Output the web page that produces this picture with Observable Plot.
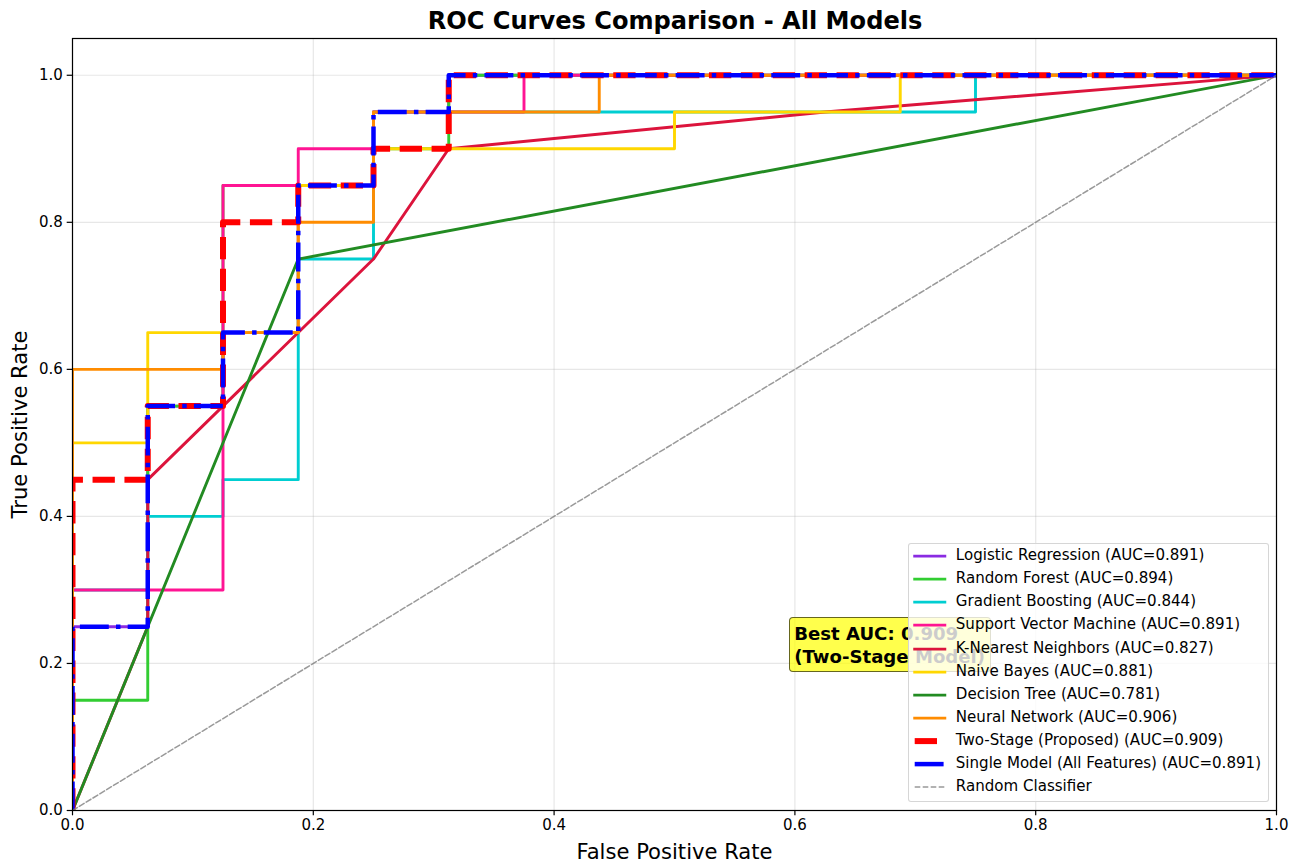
<!DOCTYPE html>
<html>
<head>
<meta charset="utf-8">
<script src="https://cdn.jsdelivr.net/npm/d3@7"></script>
<script src="https://cdn.jsdelivr.net/npm/@observablehq/plot@0.6"></script>
<style>
  body { margin: 0; background: white; }
  #fig { position: relative; width: 1298px; height: 864px; font-family: "DejaVu Sans", sans-serif; color: black; background: white; }
  #title { height: 30px; box-sizing: border-box; padding-top: 7px; line-height: 28px; text-align: center; font-size: 24.1px; font-weight: bold; padding-left: 52px; overflow: visible; white-space: nowrap; }
  #legend { position: absolute; left: 907.5px; top: 542.7px; width: 361.5px; height: 259px; box-sizing: border-box; border: 1px solid rgba(204,204,204,0.8); border-radius: 3px; background: rgba(255,255,255,0.8); }
  .lrow { position: absolute; left: 0; height: 23.1px; line-height: 23.1px; font-size: 15.07px; white-space: nowrap; }
  .lrow svg { position: absolute; left: 0; top: 0; }
  .lrow span { position: absolute; left: 47.3px; top: 0; }
  #note { position: absolute; box-sizing: border-box; padding: 3.5px 5px 3.5px 4.4px; background: rgba(255,255,0,0.7); border: 1.5px solid rgba(0,0,0,0.6); border-radius: 4px; font-size: 18.1px; font-weight: bold; line-height: 23px; white-space: nowrap; }
</style>
</head>
<body>
<div id="fig">
  <div id="title">ROC Curves Comparison - All Models</div>
</div>
<script>
// ---- data ----
const modelNames = ["Logistic Regression", "Random Forest", "Gradient Boosting", "Support Vector Machine",
  "K-Nearest Neighbors", "Naive Bayes", "Decision Tree", "Neural Network",
  "Two-Stage (Proposed)", "Single Model (All Features)"];
const aucValues = [0.891, 0.894, 0.844, 0.891, 0.827, 0.881, 0.781, 0.906, 0.909, 0.891];

const fprLR  = [0, 0, 0.0625, 0.0625, 0.125, 0.125, 0.1875, 0.1875, 0.25, 0.25, 0.3125, 0.3125, 1];
const tprLR  = [0, 0.25, 0.25, 0.55, 0.55, 0.65, 0.65, 0.85, 0.85, 0.95, 0.95, 1, 1];
const fprRF  = [0, 0, 0.0625, 0.0625, 0.125, 0.125, 0.25, 0.25, 0.3125, 0.3125, 1];
const tprRF  = [0, 0.15, 0.15, 0.55, 0.55, 0.85, 0.85, 0.9, 0.9, 1, 1];
const fprGB  = [0, 0, 0.0625, 0.0625, 0.125, 0.125, 0.1875, 0.1875, 0.25, 0.25, 0.75, 0.75, 1];
const tprGB  = [0, 0.3, 0.3, 0.4, 0.4, 0.45, 0.45, 0.75, 0.75, 0.95, 0.95, 1, 1];
const fprSVM = [0, 0, 0.125, 0.125, 0.1875, 0.1875, 0.25, 0.25, 0.375, 0.375, 1];
const tprSVM = [0, 0.3, 0.3, 0.85, 0.85, 0.9, 0.9, 0.95, 0.95, 1, 1];
const fprKNN = [0, 0.0625, 0.0625, 0.25, 0.3125, 0.625, 1];
const tprKNN = [0, 0.25, 0.45, 0.75, 0.9, 0.95, 1];
const fprNB  = [0, 0, 0.0625, 0.0625, 0.1875, 0.1875, 0.25, 0.25, 0.5, 0.5, 0.6875, 0.6875, 1];
const tprNB  = [0, 0.5, 0.5, 0.65, 0.65, 0.85, 0.85, 0.9, 0.9, 0.95, 0.95, 1, 1];
const fprDT  = [0, 0.1875, 1];
const tprDT  = [0, 0.75, 1];
const fprNN  = [0, 0, 0.125, 0.125, 0.1875, 0.1875, 0.25, 0.25, 0.4375, 0.4375, 1];
const tprNN  = [0, 0.6, 0.6, 0.65, 0.65, 0.8, 0.8, 0.95, 0.95, 1, 1];
const fprTS  = [0, 0, 0.0625, 0.0625, 0.125, 0.125, 0.1875, 0.1875, 0.25, 0.25, 0.3125, 0.3125, 1];
const tprTS  = [0, 0.45, 0.45, 0.55, 0.55, 0.8, 0.8, 0.85, 0.85, 0.9, 0.9, 1, 1];
const fprSM  = [0, 0, 0.0625, 0.0625, 0.125, 0.125, 0.1875, 0.1875, 0.25, 0.25, 0.3125, 0.3125, 1];
const tprSM  = [0, 0.25, 0.25, 0.55, 0.55, 0.65, 0.65, 0.85, 0.85, 0.95, 0.95, 1, 1];
const fprRandom = [0, 1];
const tprRandom = [0, 1];
const randomLabel = "Random Classifier";

const xTicks = [0, 0.2, 0.4, 0.6, 0.8, 1.0];
const yTicks = [0, 0.2, 0.4, 0.6, 0.8, 1.0];

// ---- styles (kept apart from data) ----
const colors = ["#8A2BE2", "#32CD32", "#00CED1", "#FF1493", "#DC143C", "#FFD700", "#228B22", "#FF8C00", "red", "blue"];
const widths = [2.9, 2.9, 2.9, 2.9, 2.9, 2.9, 2.9, 2.9, 6.0, 4.5];
const dashes = [null, null, null, null, null, null, null, null, "22.3,9.6", "28.9,7.2,4.5,7.2"];
const randomStyle = {color: "gray", width: 1.5, dash: "5.6,2.4", opacity: 0.8};

const curves = [[fprLR, tprLR], [fprRF, tprRF], [fprGB, tprGB], [fprSVM, tprSVM], [fprKNN, tprKNN],
  [fprNB, tprNB], [fprDT, tprDT], [fprNN, tprNN], [fprTS, tprTS], [fprSM, tprSM]];

const toRows = (fpr, tpr) => fpr.map((f, i) => ({fpr: f, tpr: tpr[i]}));

const lineMarks = curves.map(([f, t], i) => Plot.line(toRows(f, t), {
  x: "fpr", y: "tpr",
  stroke: colors[i], strokeWidth: widths[i],
  strokeDasharray: dashes[i] || undefined,
  strokeLinecap: dashes[i] ? "butt" : "square",
  strokeLinejoin: "round",
  clip: true
}));

const fmt = d3.format(".1f");
const plot = Plot.plot({
  width: 1298, height: 834,
  marginTop: 8, marginBottom: 54, marginLeft: 72, marginRight: 22,
  x: {domain: [0, 1]},
  y: {domain: [0, 1.05]},
  style: {fontFamily: "DejaVu Sans", fontSize: "15px", color: "black", background: "white", overflow: "visible"},
  marks: [
    Plot.gridX(xTicks, {stroke: "#b0b0b0", strokeOpacity: 0.3, strokeWidth: 1.2}),
    Plot.gridY(yTicks, {stroke: "#b0b0b0", strokeOpacity: 0.3, strokeWidth: 1.2}),
    ...lineMarks,
    Plot.line(toRows(fprRandom, tprRandom), {x: "fpr", y: "tpr", stroke: randomStyle.color, strokeOpacity: randomStyle.opacity, strokeWidth: randomStyle.width, strokeDasharray: randomStyle.dash, clip: true}),
    Plot.frame({stroke: "black", strokeWidth: 1.2}),
    Plot.axisX(xTicks, {tickFormat: fmt, tickSize: 5.3, tickPadding: 3.6, strokeWidth: 1.2, label: null, fontSize: 15}),
    Plot.axisY(yTicks, {tickFormat: fmt, tickSize: 5.3, tickPadding: 4.4, strokeWidth: 1.2, label: null, fontSize: 15}),
    Plot.text(["False Positive Rate"], {frameAnchor: "bottom", dy: 48, text: d => d, fontSize: 21.1, fill: "black"}),
    Plot.text(["True Positive Rate"], {frameAnchor: "left", dx: -52, rotate: -90, textAnchor: "middle", text: d => d, fontSize: 21.1, fill: "black"})
  ]
});

const fig = document.getElementById("fig");
fig.appendChild(plot);

// ---- annotation (positioned with the plot's own scales) ----
const sx = plot.scale("x"), sy = plot.scale("y");
const svgTop = 30;
const bestIdx = aucValues.indexOf(Math.max(...aucValues));
const note = document.createElement("div");
note.id = "note";
note.innerHTML = `Best AUC: ${aucValues[bestIdx].toFixed(3)}<br>(Two-Stage Model)`;
fig.appendChild(note);
note.style.left = (sx.apply(0.6) - 5.6) + "px";
note.style.top = (sy.apply(0.2) + svgTop - 17.8 - 23 - 3.5 - 1.5) + "px";

// ---- legend ----
const legend = document.createElement("div");
legend.id = "legend";
const entries = modelNames.map((n, i) => ({label: `${n} (AUC=${aucValues[i].toFixed(3)})`, color: colors[i], width: widths[i], dash: dashes[i], opacity: 1}));
entries.push({label: randomLabel, ...randomStyle});
entries.forEach((e, i) => {
  const row = document.createElement("div");
  row.className = "lrow";
  row.style.top = (13 - 11.55 + 23.1 * i - 1) + "px";
  row.style.width = "358px";
  const cap = e.dash ? "butt" : "square";
  row.innerHTML = `<svg width="45" height="23.1"><line x1="5.7" x2="35.8" y1="12.1" y2="12.1" stroke="${e.color}" stroke-opacity="${e.opacity}" stroke-width="${e.width}" stroke-linecap="${cap}" ${e.dash ? `stroke-dasharray="${e.dash}"` : ""}/></svg><span>${e.label}</span>`;
  legend.appendChild(row);
});
fig.appendChild(legend);
</script>
</body>
</html>
